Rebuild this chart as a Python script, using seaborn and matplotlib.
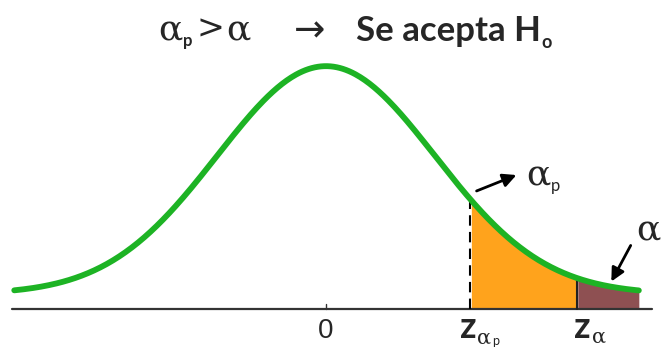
import numpy as np
import pandas as pd
import seaborn as sns
import matplotlib.pyplot as plt

# valores (en unidades z)
z_alpha_p = 1.32
z_alpha = 2.30
z_left, z_right = -2.86, 2.87
curve_offset = 0.026          # la curva no baja hasta el eje
tick_labels = ['0', 'z', 'z']

sns.set_style('white')

# escala: 109 px por unidad z, 571.5 px por unidad de densidad, eje en y=309 px
def px(x, y):
    return (x - 326) / 109, (309 - y) / 571.5

def fpx(x, y):
    return x / 671, 1 - y / 347

z = np.linspace(z_left, z_right, 400)
dens = np.exp(-z**2 / 2) / np.sqrt(2 * np.pi) + curve_offset
df = pd.DataFrame({'z': z, 'dens': dens})

fig = plt.figure(figsize=(6.71, 3.47), dpi=100)
ax = fig.add_axes([0, 0, 1, 1])
x0, y0 = px(0, 347)
x1, y1 = px(671, 0)
ax.set_xlim(x0, x1)
ax.set_ylim(y0, y1)
ax.axis('off')

# zonas sombreadas
m1 = (z >= z_alpha_p) & (z <= z_alpha)
m2 = z >= z_alpha
ax.fill_between(z[m1], 0, dens[m1], color='#FFA31C', lw=0)
ax.fill_between(z[m2], 0, dens[m2], color='#8E5052', lw=0)

# eje horizontal
bx0, _ = px(12, 0)
bx1, _ = px(652, 0)
ax.plot([bx0, bx1], [0, 0], color='#333333', lw=1.6)
ax.plot([0, 0], [0, px(0, 304)[1]], color='#333333', lw=1)

# líneas verticales
fz = lambda v: np.exp(-v**2 / 2) / np.sqrt(2 * np.pi) + curve_offset
ax.plot([z_alpha_p, z_alpha_p], [0, fz(z_alpha_p)], color='black', lw=1.5, ls=(0, (5, 3)))
ax.plot([z_alpha, z_alpha], [0, fz(z_alpha)], color='#222222', lw=1.5)

# curva normal
sns.lineplot(data=df, x='z', y='dens', ax=ax, color='#1DB324', lw=4.2, legend=False)

serif = 'DejaVu Serif'
# título
fig.text(*fpx(158, 30), 'α', fontsize=26, family=serif, ha='left', va='center')
fig.text(*fpx(183, 41), 'p', fontsize=12, family='Lato', fontweight='bold',
         ha='left', va='center')
fig.text(*fpx(210, 30), '>', fontsize=24, family=serif, ha='center', va='center')
fig.text(*fpx(226, 30), 'α', fontsize=26, family=serif, ha='left', va='center')
fig.text(*fpx(310, 31), '→', fontsize=27, ha='center', va='center',
         family='DejaVu Sans')
fig.text(*fpx(356, 31), 'Se acepta H', fontsize=25, fontweight='bold',
         family='Lato', ha='left', va='center')
fig.text(*fpx(541, 43), 'o', fontsize=13, fontweight='bold',
         family='Lato', ha='left', va='center')

# etiquetas del eje
ax.text(0, px(0, 331)[1], tick_labels[0], fontsize=20, family='Liberation Sans',
        ha='center', va='center')
ax.text(*px(477, 328), tick_labels[1], fontsize=26, fontweight='bold',
        family='Lato', ha='right', va='center')
ax.text(*px(477, 338), 'α', fontsize=15, family=serif, ha='left', va='center')
ax.text(*px(492, 341), 'p', fontsize=9, family='Lato', ha='left', va='center')
ax.text(*px(591, 328), tick_labels[2], fontsize=26, fontweight='bold',
        family='Lato', ha='right', va='center')
ax.text(*px(592, 337), 'α', fontsize=15, family=serif, ha='left', va='center')

# flechas y etiquetas de áreas
ax.annotate('', xy=px(519, 174), xytext=px(474, 192),
            arrowprops=dict(arrowstyle='-|>,head_length=0.8,head_width=0.4',
                            color='black', lw=2))
ax.text(*px(526, 175), 'α', fontsize=26, family=serif, ha='left', va='center')
ax.text(*px(551, 186), 'p', fontsize=12, family='Lato', ha='left', va='center')
ax.annotate('', xy=px(610, 284), xytext=px(632, 243),
            arrowprops=dict(arrowstyle='-|>,head_length=0.8,head_width=0.4',
                            color='black', lw=2))
ax.text(*px(636, 230), 'α', fontsize=26, family=serif, ha='left', va='center')

fig.savefig('out.png', dpi=100)
